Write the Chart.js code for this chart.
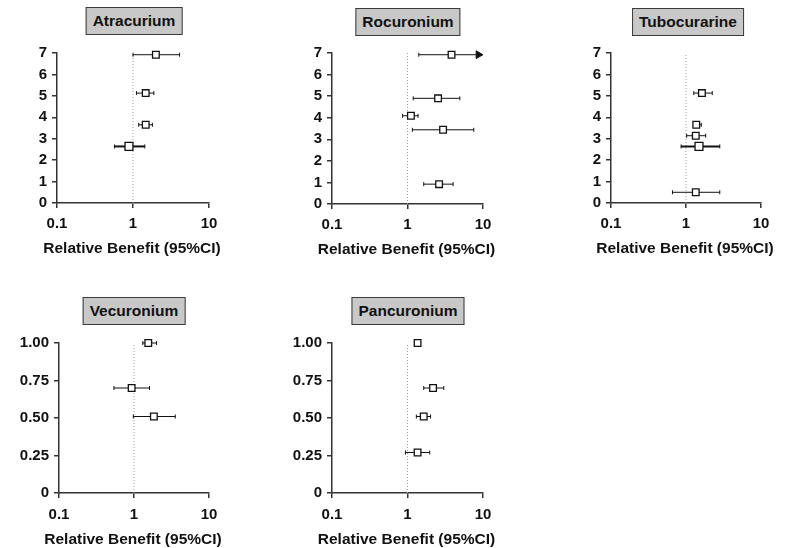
<!DOCTYPE html>
<html><head><meta charset="utf-8">
<script src="https://cdn.jsdelivr.net/npm/chart.js@4.4.1/dist/chart.umd.min.js"></script>
<style>
html,body{margin:0;padding:0;background:#fff;}
body{width:788px;height:548px;position:relative;overflow:hidden;font-family:"Liberation Sans",Arial,Helvetica,sans-serif;}
.ttl{position:absolute;transform:translateX(-50%);background:#c8c8c8;border:1.5px solid #3a3a3a;font-weight:bold;font-size:15.5px;height:26px;line-height:26px;padding:0 6px;white-space:nowrap;color:#111;}
canvas{position:absolute;}
</style></head><body>
<script>
// ---------- data ----------
const xTickValues = [0.1, 1, 10];
const xTickLabels = ['0.1', '1', '10'];
const yTicksTop = [0, 1, 2, 3, 4, 5, 6, 7];
const yTickLabelsTop = ['0', '1', '2', '3', '4', '5', '6', '7'];
const yTicksBottom = [0, 0.25, 0.5, 0.75, 1];
const yTickLabelsBottom = ['0', '0.25', '0.50', '0.75', '1.00'];
const xAxisTitle = 'Relative Benefit (95%CI)';

const atracuriumY   = [6.92, 5.13, 3.65, 2.64];
const atracuriumEst = [2.0, 1.47, 1.47, 0.885];
const atracuriumLo  = [1.0, 1.11, 1.19, 0.57];
const atracuriumHi  = [4.1, 1.88, 1.80, 1.43];

const rocuroniumY   = [6.92, 4.9, 4.09, 3.44, 0.92];
const rocuroniumEst = [3.83, 2.54, 1.11, 2.96, 2.62];
const rocuroniumLo  = [1.41, 1.19, 0.86, 1.16, 1.64];
const rocuroniumHi  = [8.7, 4.93, 1.38, 7.55, 4.02]; // first: upper limit off scale, drawn as arrow

const tubocurarineY   = [5.13, 3.65, 3.14, 2.64, 0.5];
const tubocurarineEst = [1.63, 1.37, 1.35, 1.49, 1.35];
const tubocurarineLo  = [1.27, 1.27, 1.02, 0.86, 0.66];
const tubocurarineHi  = [2.24, 1.60, 1.83, 2.82, 2.82];

const vecuroniumY   = [1.0, 0.70, 0.51];
const vecuroniumEst = [1.55, 0.93, 1.84];
const vecuroniumLo  = [1.31, 0.54, 0.98];
const vecuroniumHi  = [2.0, 1.61, 3.55];

const pancuroniumY   = [1.0, 0.70, 0.51, 0.27];
const pancuroniumEst = [1.36, 2.18, 1.64, 1.36];
const pancuroniumLo  = [1.33, 1.64, 1.31, 0.94];
const pancuroniumHi  = [1.40, 3.02, 2.02, 1.97];

// ---------- layout / style ----------
const FONT = '"Liberation Sans", Arial, Helvetica, sans-serif';
const panels = [
  {title:'Atracurium', tx:134, ty:7, L:57, T:53, W:152, H:150, y:atracuriumY, est:atracuriumEst, lo:atracuriumLo, hi:atracuriumHi, yt:yTicksTop, yl:yTickLabelsTop, thick:[3], big:[3], arrow:[]},
  {title:'Rocuronium', tx:408, ty:8, L:332, T:53, W:151, H:151, y:rocuroniumY, est:rocuroniumEst, lo:rocuroniumLo, hi:rocuroniumHi, yt:yTicksTop, yl:yTickLabelsTop, thick:[], big:[], arrow:[0]},
  {title:'Tubocurarine', tx:688, ty:8, L:611, T:53, W:150, H:150, y:tubocurarineY, est:tubocurarineEst, lo:tubocurarineLo, hi:tubocurarineHi, yt:yTicksTop, yl:yTickLabelsTop, thick:[3], big:[3], arrow:[]},
  {title:'Vecuronium', tx:134, ty:297, L:59, T:343, W:150, H:150, y:vecuroniumY, est:vecuroniumEst, lo:vecuroniumLo, hi:vecuroniumHi, yt:yTicksBottom, yl:yTickLabelsBottom, thick:[], big:[], arrow:[]},
  {title:'Pancuronium', tx:408, ty:297, L:332, T:343, W:151, H:150, y:pancuroniumY, est:pancuroniumEst, lo:pancuroniumLo, hi:pancuroniumHi, yt:yTicksBottom, yl:yTickLabelsBottom, thick:[], big:[], arrow:[]}
];

// x-axis title drawn centred under the plot area (without Chart.js' maxWidth squeeze)
const axisTitlePlugin = {
  id:'axisTitleFree',
  afterDraw(chart, args, opts){
    const {ctx, chartArea} = chart;
    ctx.save();
    ctx.font = 'bold 15.5px ' + FONT;
    ctx.fillStyle = '#111';
    ctx.textAlign = 'center';
    ctx.textBaseline = 'middle';
    ctx.fillText(opts.text, (chartArea.left + chartArea.right) / 2 - 1, chartArea.bottom + opts.offset);
    ctx.restore();
  }
};

function makePanel(p, idx){
  const t = document.createElement('div');
  t.className = 'ttl'; t.textContent = p.title;
  t.style.left = p.tx + 'px'; t.style.top = p.ty + 'px';
  document.body.appendChild(t);

  const bottomRow = idx >= 3;
  const c = document.createElement('canvas');
  const cw = p.W + 80, ch = p.H + 75;
  c.width = cw; c.height = ch;
  c.style.left = (p.L - 60) + 'px'; c.style.top = (p.T - 20) + 'px';
  c.style.width = cw + 'px'; c.style.height = ch + 'px';
  document.body.appendChild(c);

  const datasets = [];
  datasets.push({
    type:'scatter',
    data: p.y.map((y,i)=>({x:p.est[i], y:y})),
    pointStyle:'rect',
    pointRadius: p.y.map((_,i)=> p.big.includes(i) ? 5.6 : 4.7),
    pointBackgroundColor:'#fff', pointBorderColor:'#111', pointBorderWidth:1.3,
    showLine:false, clip:false
  });
  p.y.forEach((y,i)=>{
    const arrow = p.arrow.includes(i);
    datasets.push({
      type:'line',
      data:[{x:p.lo[i], y:y},{x:p.hi[i], y:y}],
      borderColor:'#111', borderWidth: p.thick.includes(i) ? 2 : 1,
      pointStyle: arrow ? ['line','triangle'] : 'line',
      pointRotation: 90,
      pointRadius: arrow ? [2, 4.5] : 2,
      pointBorderColor:'#111', pointBackgroundColor:'#111', pointBorderWidth:1,
      clip:false
    });
  });
  datasets.push({
    type:'line',
    data:[{x:1, y:p.yt[0]},{x:1, y:p.yt[p.yt.length-1]}],
    borderColor:'#9a9a9a', borderWidth:1, borderDash:[1,2], pointRadius:0, clip:false
  });

  const tickFont = {size:15, weight:'bold', family:FONT};
  new Chart(c, {
    data:{datasets},
    plugins:[axisTitlePlugin],
    options:{
      responsive:false, animation:false, devicePixelRatio:1,
      layout:{padding:{left:0, top:20, right:20, bottom:0}},
      plugins:{legend:{display:false}, tooltip:{enabled:false},
               axisTitleFree:{text:xAxisTitle, offset: bottomRow ? 47 : 45.5}},
      scales:{
        x:{
          type:'logarithmic', min:0.1, max:10, position:'bottom',
          afterBuildTicks: s => { s.ticks = xTickValues.map(v=>({value:v})); },
          afterFit: s => { s.height = 55; },
          ticks:{callback:(v,i)=> xTickLabels[i], font:tickFont, color:'#111', padding: bottomRow ? 8 : 7, maxRotation:0, autoSkip:false},
          grid:{drawOnChartArea:false, drawTicks:true, tickLength:5, color:'#333', lineWidth:1.5},
          border:{display:true, color:'#333', width:1.5},
          title:{display:false}
        },
        y:{
          type:'linear', min:p.yt[0], max:p.yt[p.yt.length-1], position:'left',
          afterBuildTicks: s => { s.ticks = p.yt.map(v=>({value:v})); },
          afterFit: s => { s.width = 60; },
          ticks:{callback:(v,i)=> p.yl[i], font:tickFont, color:'#111', padding:5, autoSkip:false},
          grid:{drawOnChartArea:false, drawTicks:true, tickLength:5, color:'#333', lineWidth:1.5},
          border:{display:true, color:'#333', width:1.5}
        }
      }
    }
  });
}
panels.forEach(makePanel);
</script>
</body></html>
